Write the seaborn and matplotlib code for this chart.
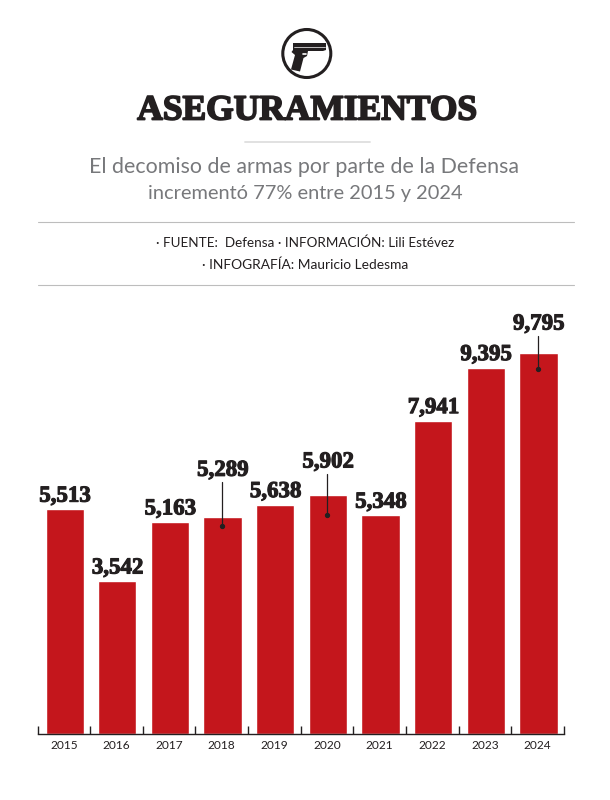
import matplotlib

matplotlib.use("Agg")

import matplotlib.patheffects as pe
import matplotlib.pyplot as plt
import pandas as pd
import seaborn as sns
from matplotlib.patches import Circle, Polygon
from matplotlib.ticker import FixedLocator, NullFormatter

years = ["2015", "2016", "2017", "2018", "2019", "2020", "2021", "2022", "2023", "2024"]
seizures = [5513, 3542, 5163, 5289, 5638, 5902, 5348, 7941, 9395, 9795]
# the bars in the original do not start at zero, the baseline sits below it
baseline = -654
px_per_unit = 0.03646

# label rise above the bar top and dot depth below it, in pixels
LEADERS = {"2018": (47, 9), "2020": (33, 20), "2024": (29, 16)}

RED = "#C4161C"
INK = "#231F20"
GREY = "#77787B"
RULE = "#BDBDBD"
W, H = 610, 800

sns.set_theme(style="white")
plt.rcParams["font.family"] = ["Lato", "DejaVu Sans"]


def fx(px):
    return px / W


def fy(px):
    return 1 - px / H


fig = plt.figure(figsize=(W / 100, H / 100), dpi=100, facecolor="white")

# Overlay in pixel coordinates for the header
head = fig.add_axes([0, 0, 1, 1], zorder=0)
head.set_xlim(0, W)
head.set_ylim(H, 0)
head.axis("off")

# Icon
head.add_patch(Circle((306.8, 53.5), 24, fc="white", ec=INK, lw=2.2))
gun = [
    (293, 43), (326, 43), (326, 50), (323, 51), (308, 51), (307, 56), (303.5, 58),
    (300, 71.5), (291, 69.5), (295, 55), (291.5, 52), (293, 50),
]
head.add_patch(Polygon(gun, closed=True, fc=INK, ec="none"))
head.plot([294, 325], [47, 47], color="white", lw=0.5)
head.plot([303, 306], [54, 54], color="white", lw=1.2)

# Title and subtitle
fig.text(
    fx(307), fy(111), "ASEGURAMIENTOS", family="Liberation Serif", weight="bold",
    fontsize=25.5, color=INK, ha="center", va="center",
    path_effects=[pe.withStroke(linewidth=1.3, foreground=INK)],
)
fig.text(fx(304), fy(167), "El decomiso de armas por parte de la Defensa",
         fontsize=15.4, color=GREY, ha="center", va="center")
fig.text(fx(305), fy(193), "incrementó 77% entre 2015 y 2024",
         fontsize=14.4, color=GREY, ha="center", va="center")

# Credits
fig.text(fx(305.5), fy(243), "· FUENTE:  Defensa · INFORMACIÓN: Lili Estévez",
         fontsize=9.7, color=INK, ha="center", va="center")
fig.text(fx(305.5), fy(265), "· INFOGRAFÍA: Mauricio Ledesma",
         fontsize=9.9, color=INK, ha="center", va="center")

# Rules
head.plot([245, 370], [142, 142], color="#DEDEDE", lw=1.3)
head.plot([38, 574], [222, 222], color=RULE, lw=0.8)
head.plot([38, 574], [285, 285], color=RULE, lw=0.8)

# Chart
left, right, top, bottom = 37.5, 564, 300, 734
ax = fig.add_axes([fx(left), fy(bottom), (right - left) / W, (bottom - top) / H], zorder=1)
ax.patch.set_alpha(0)

df = pd.DataFrame({"year": years, "seizures": seizures})
sns.barplot(data=df, x="year", y="seizures", color=RED, saturation=1, width=0.725, ax=ax)
for bar in ax.patches:
    bar.set_height(bar.get_height() - baseline)
    bar.set_y(baseline)
    bar.set_x(bar.get_x() + 0.015)

ax.set_xlim(-0.5, len(years) - 0.5)
ax.set_ylim(baseline, baseline + (bottom - top) / px_per_unit)
ax.set_xlabel("")
ax.set_ylabel("")
ax.set_yticks([])
sns.despine(ax=ax, left=True)
ax.spines["bottom"].set_color(INK)
ax.spines["bottom"].set_linewidth(1.0)

ax.xaxis.set_minor_locator(FixedLocator([i - 0.5 for i in range(len(years) + 1)]))
ax.xaxis.set_minor_formatter(NullFormatter())
ax.tick_params(axis="x", which="minor", direction="in", length=6, width=1, color=INK, bottom=True)
ax.tick_params(axis="x", which="major", length=0, pad=4, labelsize=8.6, labelcolor=INK)

# Value labels
label_style = dict(
    ha="center", va="center", family="Liberation Serif", weight="bold", fontsize=16.5, color=INK,
    path_effects=[pe.withStroke(linewidth=0.8, foreground=INK)],
)
for i, (year, value) in enumerate(zip(years, seizures)):
    label = f"{value:,}"
    if year in LEADERS:
        rise, depth = LEADERS[year]
        ax.text(i + 0.02, value + rise / px_per_unit, label, **label_style)
        ax.plot([i, i], [value + (rise - 12) / px_per_unit, value - depth / px_per_unit], color=INK, lw=0.9)
        ax.plot(i, value - depth / px_per_unit, "o", color=INK, ms=2.8)
    else:
        ax.text(i + 0.02, value + 13 / px_per_unit, label, **label_style)

fig.savefig("out.png", dpi=100, facecolor="white")
